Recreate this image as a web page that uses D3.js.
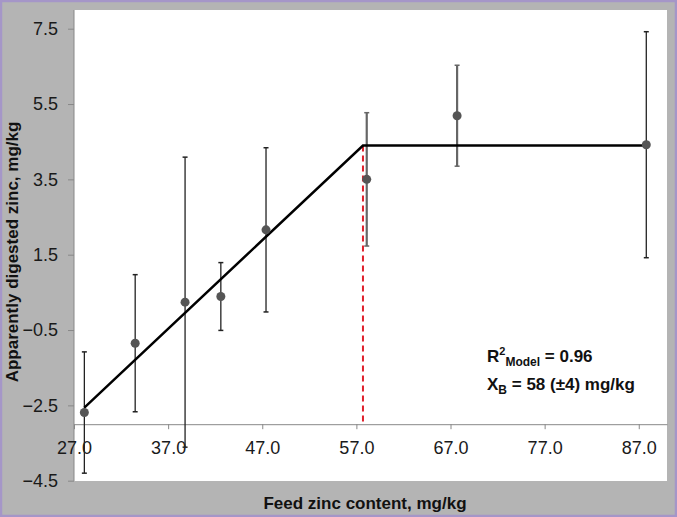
<!DOCTYPE html>
<html>
<head>
<meta charset="utf-8">
<script src="https://cdn.jsdelivr.net/npm/d3@7"></script>
<style>
  body { margin: 0; background: #fff; }
  svg { display: block; font-family: "Liberation Sans", Arial, sans-serif; }
</style>
</head>
<body>
<div id="chart"></div>
<script>
// observed points: feed zinc (mg/kg), apparently digested zinc (mg/kg), error (±)
const feedZinc = [28.1, 33.5, 38.8, 42.6, 47.4, 58.1, 67.7, 87.8];
const digested = [-2.69, -0.85, 0.24, 0.39, 2.16, 3.5, 5.19, 4.42];
const errors = [1.61, 1.82, 3.85, 0.9, 2.18, 1.77, 1.34, 3.0];
// heavier grey bars for the two points past the break
const heavyBar = [false, false, false, false, false, true, true, false];

// broken-line model
const modelX = [28.1, 57.7, 87.8];
const modelY = [-2.56, 4.4, 4.4];
const breakX = 57.7;

const xTicks = [27, 37, 47, 57, 67, 77, 87];
const yTicks = [-4.5, -2.5, -0.5, 1.5, 3.5, 5.5, 7.5];

const width = 677, height = 517;

const svg = d3.select("#chart")
  .append("svg")
  .attr("width", width)
  .attr("height", height);

// frame
svg.append("rect")
  .attr("x", 1).attr("y", 1)
  .attr("width", width - 2).attr("height", height - 2)
  .attr("fill", "#b4b4b4")
  .attr("stroke", "#a596c8")
  .attr("stroke-width", 2.5);

// plot area
svg.append("rect")
  .attr("x", 74).attr("y", 10)
  .attr("width", 593).attr("height", 471)
  .attr("fill", "#fff");

const x = d3.scaleLinear().domain([27, 90]).range([74, 667]);
const y = d3.scaleLinear().domain([-4.5, 7.5]).range([480.7, 28.7]);

// y axis
const yAxis = svg.append("g")
  .attr("transform", "translate(74,0)")
  .call(d3.axisLeft(y).tickValues(yTicks).tickFormat(d3.format(".1f"))
    .tickSizeInner(6).tickSizeOuter(0).tickPadding(10));
yAxis.select(".domain").attr("stroke", "#888").attr("d", `M0,10V481`);
yAxis.selectAll(".tick line").attr("stroke", "#888");
yAxis.selectAll(".tick text").attr("fill", "#1a1a1a").style("font-size", "18px");

// x axis crossing at y = -3.0
const xAxis = svg.append("g")
  .attr("transform", `translate(0,${y(-3.0)})`)
  .call(d3.axisBottom(x).tickValues(xTicks).tickFormat(d3.format(".1f"))
    .tickSizeInner(5).tickSizeOuter(0).tickPadding(12));
xAxis.select(".domain").attr("stroke", "#888");
xAxis.selectAll(".tick line").attr("stroke", "#888");
xAxis.selectAll(".tick text").attr("fill", "#1a1a1a").style("font-size", "18px");

// break-point marker
svg.append("line")
  .attr("x1", x(breakX)).attr("x2", x(breakX))
  .attr("y1", y(modelY[1])).attr("y2", y(-3.0))
  .attr("stroke", "#e0202c")
  .attr("stroke-width", 2)
  .attr("stroke-dasharray", "6,4");

// error bars
const pts = feedZinc.map((v, i) => ({ x: v, y: digested[i], e: errors[i], heavy: heavyBar[i] }));

const bars = svg.append("g");
bars.selectAll("line.v")
  .data(pts)
  .join("line")
  .attr("class", "v")
  .attr("x1", d => x(d.x)).attr("x2", d => x(d.x))
  .attr("y1", d => y(d.y + d.e)).attr("y2", d => y(d.y - d.e))
  .attr("stroke", d => d.heavy ? "#666" : "#222")
  .attr("stroke-width", d => d.heavy ? 2.2 : 1.3);

bars.selectAll("line.cap")
  .data(pts.flatMap(d => [{ x: d.x, y: d.y + d.e, heavy: d.heavy }, { x: d.x, y: d.y - d.e, heavy: d.heavy }]))
  .join("line")
  .attr("class", "cap")
  .attr("x1", d => x(d.x) - 2.5).attr("x2", d => x(d.x) + 2.5)
  .attr("y1", d => y(d.y)).attr("y2", d => y(d.y))
  .attr("stroke", d => d.heavy ? "#666" : "#222")
  .attr("stroke-width", 1.5);

// model line
const line = d3.line()
  .x((d, i) => x(modelX[i]))
  .y(d => y(d));

svg.append("path")
  .datum(modelY)
  .attr("fill", "none")
  .attr("stroke", "#000")
  .attr("stroke-width", 2.5)
  .attr("d", line);

// points
svg.append("g")
  .selectAll("circle")
  .data(pts)
  .join("circle")
  .attr("cx", d => x(d.x))
  .attr("cy", d => y(d.y))
  .attr("r", 4.5)
  .attr("fill", "#555");

// annotation
const note = svg.append("g")
  .style("font-weight", "bold")
  .style("font-size", "17px")
  .attr("fill", "#111");

const t1 = note.append("text").attr("x", 487).attr("y", 362);
t1.append("tspan").text("R");
t1.append("tspan").text("2").style("font-size", "11px").attr("dy", -7);
t1.append("tspan").text("Model").style("font-size", "12px").attr("dx", 0).attr("dy", 11);
t1.append("tspan").text(" = 0.96").attr("dy", -4);

const t2 = note.append("text").attr("x", 487).attr("y", 390);
t2.append("tspan").text("X");
t2.append("tspan").text("B").style("font-size", "12px").attr("dy", 4);
t2.append("tspan").text(" = 58 (\u00b14) mg/kg").attr("dy", -4);

// axis titles
svg.append("text")
  .attr("x", 365).attr("y", 509)
  .attr("text-anchor", "middle")
  .style("font-weight", "bold")
  .style("font-size", "17px")
  .attr("fill", "#111")
  .text("Feed zinc content, mg/kg");

svg.append("text")
  .attr("transform", "translate(18,252) rotate(-90)")
  .attr("text-anchor", "middle")
  .style("font-weight", "bold")
  .style("font-size", "17px")
  .attr("fill", "#111")
  .text("Apparently digested zinc, mg/kg");
</script>
</body>
</html>
